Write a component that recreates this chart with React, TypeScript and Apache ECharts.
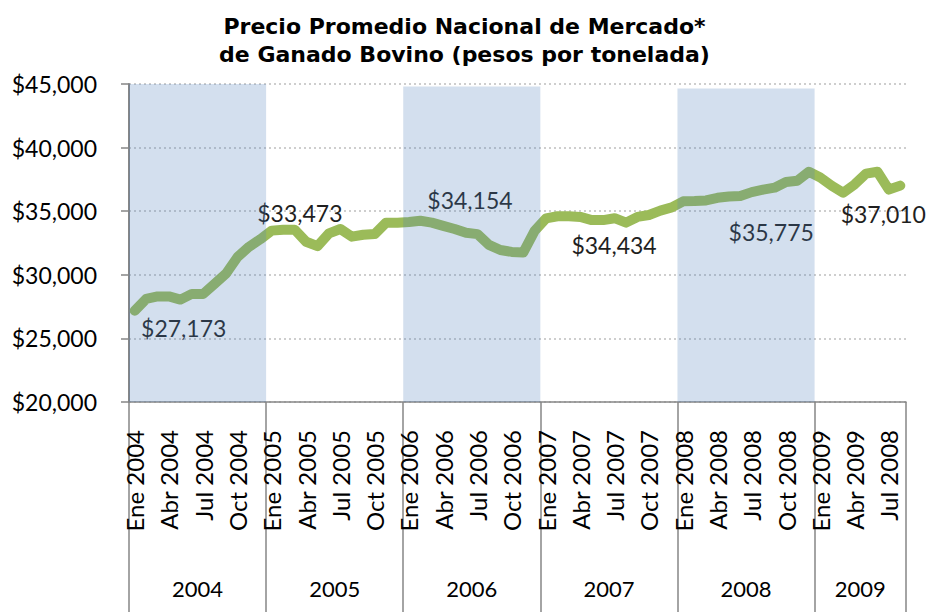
import React, { useEffect, useRef } from 'react';
import * as echarts from 'echarts';

const monthNames = ['Ene', 'Feb', 'Mar', 'Abr', 'May', 'Jun', 'Jul', 'Ago', 'Sep', 'Oct', 'Nov', 'Dic'];
const yearNames = ['2004', '2005', '2006', '2007', '2008', '2009'];
const monthsInYear = [12, 12, 12, 12, 12, 8];
const categories: string[] = yearNames.flatMap((y, k) =>
  monthNames.slice(0, monthsInYear[k]).map((m) => `${m} ${y}`)
);

const tickLabels = [
  'Ene 2004', 'Abr 2004', 'Jul 2004', 'Oct 2004',
  'Ene 2005', 'Abr 2005', 'Jul 2005', 'Oct 2005',
  'Ene 2006', 'Abr 2006', 'Jul 2006', 'Oct 2006',
  'Ene 2007', 'Abr 2007', 'Jul 2007', 'Oct 2007',
  'Ene 2008', 'Abr 2008', 'Jul 2008', 'Oct 2008',
  'Ene 2009', 'Abr 2009', 'Jul 2008',
];

const prices = [
  27173, 28100, 28300, 28300, 28050, 28500, 28500, 29300, 30100, 31400, 32200, 32800,
  33473, 33550, 33550, 32600, 32250, 33250, 33600, 33000, 33150, 33200, 34100, 34100,
  34154, 34250, 34100, 33850, 33600, 33300, 33200, 32350, 31950, 31800, 31750, 33450,
  34434, 34600, 34600, 34550, 34300, 34300, 34450, 34100, 34550, 34700, 35050, 35300,
  35775, 35800, 35850, 36050, 36150, 36200, 36500, 36700, 36850, 37300, 37400, 38100,
  37650, 37000, 36450, 37100, 37950, 38100, 36700, 37010,
];

const labelledPoints = [0, 12, 24, 36, 48, 67];
const labelOffsets: [number, number][] = [
  [49, 17], [28, -18], [61, -22], [68, 27], [88, 31], [-17, 28],
];

const shadedYears = [0, 2, 4];
const shadeTops = [45000, 44800, 44650];

const fmtMoney = (v: number) => '$' + Math.round(v).toLocaleString('en-US');

const FONT = 'Lato';

export default function App() {
  const ref = useRef<HTMLDivElement>(null);
  useEffect(() => {
    if (!ref.current) return;
    const chart = echarts.init(ref.current, null, { renderer: 'svg' });

    const yearStarts: number[] = [0];
    monthsInYear.forEach((n, k) => yearStarts.push(yearStarts[k] + n));
    const yearMids = monthsInYear.map((n, k) => yearStarts[k] + n / 2);
    const totalMonths = yearStarts[yearStarts.length - 1];

    const lineData = prices.map((v, i) => {
      const k = labelledPoints.indexOf(i);
      if (k < 0) return v;
      return {
        value: v,
        symbol: 'circle',
        symbolSize: 1,
        label: {
          show: true,
          position: 'inside',
          offset: labelOffsets[k],
          formatter: (p: any) => fmtMoney(p.value),
          fontSize: 23,
          fontFamily: FONT,
          color: '#1F1F1F',
        },
      };
    });

    const bandData = shadedYears.map((k, j) => [yearStarts[k], yearStarts[k + 1], shadeTops[j]]);

    const option: any = {
      animation: false,
      backgroundColor: '#ffffff',
      title: {
        text: 'Precio Promedio Nacional de Mercado*\nde Ganado Bovino (pesos por tonelada)',
        left: 'center',
        top: 7,
        textStyle: {
          fontFamily: 'DejaVu Sans',
          fontWeight: 'bold',
          fontSize: 22,
          lineHeight: 28,
          color: '#000000',
        },
      },
      grid: { left: 129, right: 23, top: 84, bottom: 210, containLabel: false },
      xAxis: [
        {
          type: 'category',
          data: categories,
          boundaryGap: true,
          position: 'bottom',
          axisLine: { show: true, lineStyle: { color: '#868686', width: 1.5 } },
          axisTick: { show: false },
          splitLine: { show: false },
          axisLabel: {
            interval: 2,
            rotate: 90,
            margin: 28,
            fontSize: 24,
            fontFamily: FONT,
            color: '#000000',
            formatter: (_v: string, idx: number) => tickLabels[idx / 3] ?? '',
          },
        },
        {
          type: 'value',
          position: 'bottom',
          min: 0,
          max: totalMonths,
          axisLine: { show: false },
          splitLine: { show: false },
          axisTick: {
            show: true,
            customValues: yearStarts,
            length: 212,
            lineStyle: { color: '#868686', width: 1.5 },
          },
          axisLabel: {
            show: true,
            customValues: yearMids,
            margin: 175,
            fontSize: 22,
            fontFamily: FONT,
            color: '#000000',
            formatter: (v: number) => yearNames[yearMids.indexOf(Number(v))] ?? '',
          },
        },
      ],
      yAxis: {
        type: 'value',
        min: 20000,
        max: 45000,
        interval: 5000,
        axisLine: { show: true, lineStyle: { color: '#868686', width: 2 } },
        axisTick: { show: true, length: 8, lineStyle: { color: '#868686', width: 1.5 } },
        splitLine: { show: true, lineStyle: { color: '#BFBFBF', type: [2, 3], width: 1.5 } },
        axisLabel: {
          margin: 32,
          fontSize: 23,
          fontFamily: FONT,
          color: '#000000',
          formatter: (v: number) => fmtMoney(v),
        },
      },
      series: [
        {
          type: 'line',
          name: 'Precio',
          xAxisIndex: 0,
          yAxisIndex: 0,
          data: lineData,
          symbol: 'none',
          showAllSymbol: true,
          silent: true,
          z: 2,
          itemStyle: { color: '#9BBB59' },
          lineStyle: { width: 10, color: '#9BBB59', cap: 'round', join: 'round' },
          emphasis: { disabled: true },
        },
        {
          type: 'custom',
          name: 'bands',
          xAxisIndex: 1,
          yAxisIndex: 0,
          silent: true,
          z: 5,
          data: bandData,
          encode: { x: [0, 1], y: 2 },
          renderItem: (_params: any, api: any) => {
            const p0 = api.coord([api.value(0), 20000]);
            const p1 = api.coord([api.value(1), api.value(2)]);
            return {
              type: 'rect',
              shape: { x: p0[0], y: p1[1], width: p1[0] - p0[0], height: p0[1] - p1[1] },
              style: { fill: 'rgba(79,129,189,0.25)' },
            };
          },
        },
      ],
    };
    chart.setOption(option);
    return () => chart.dispose();
  }, []);
  return (
    <div
      ref={ref}
      style={{ position: 'fixed', left: 0, top: 0, width: 929, height: 612 }}
    />
  );
}
